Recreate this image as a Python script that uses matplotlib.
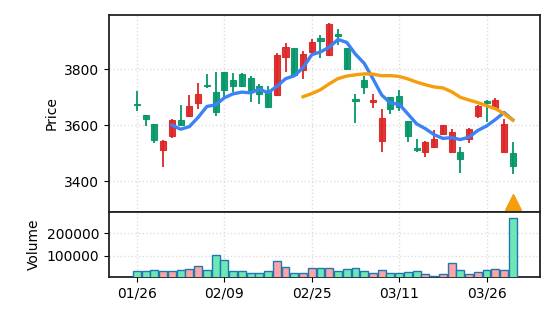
import matplotlib
matplotlib.use("Agg")
import matplotlib.pyplot as plt
from matplotlib.patches import Rectangle
import numpy as np
import pandas as pd

# ---- data ----
opens = [3676, 3637, 3604, 3512, 3561, 3618, 3632, 3681, 3745, 3718,
         3790, 3761, 3784, 3768, 3741, 3720, 3707, 3846, 3875, 3798,
         3862, 3911, 3851, 3925, 3875, 3694, 3763, 3683, 3545, 3700,
         3705, 3614, 3518, 3505, 3521, 3569, 3504, 3505, 3550, 3634,
         3688, 3661, 3505, 3500]
closes = [3673, 3622, 3546, 3544, 3618, 3600, 3669, 3711, 3739, 3647,
          3726, 3740, 3741, 3727, 3711, 3665, 3851, 3879, 3780, 3854,
          3899, 3900, 3964, 3918, 3802, 3688, 3736, 3689, 3627, 3658,
          3667, 3562, 3512, 3541, 3551, 3600, 3575, 3478, 3586, 3669,
          3680, 3689, 3605, 3453]
highs = [3722, 3638, 3606, 3546, 3622, 3672, 3708, 3751, 3782, 3789,
         3792, 3786, 3786, 3776, 3748, 3739, 3857, 3896, 3876, 3865,
         3908, 3922, 3966, 3946, 3876, 3712, 3776, 3712, 3657, 3701,
         3725, 3615, 3551, 3543, 3583, 3602, 3586, 3522, 3590, 3671,
         3690, 3697, 3621, 3540]
lows = [3652, 3599, 3538, 3452, 3554, 3596, 3630, 3659, 3734, 3634,
        3703, 3720, 3738, 3684, 3675, 3664, 3705, 3791, 3778, 3764,
        3860, 3839, 3849, 3887, 3800, 3609, 3711, 3661, 3506, 3641,
        3652, 3541, 3506, 3488, 3520, 3564, 3503, 3431, 3538, 3627,
        3613, 3660, 3504, 3427]
volumes = [32600, 32600, 37000, 35000, 35000, 37000, 42700, 54600, 37000, 103000,
           81000, 32600, 32600, 23800, 23800, 32600, 76600, 51500, 23800, 23800,
           45800, 45800, 45800, 32600, 41400, 47100, 32600, 23800, 37000, 23800,
           23800, 28200, 32600, 19400, 12000, 19400, 67800, 37000, 19400, 28200,
           37000, 41400, 37000, 266000]
tick_index = [0, 10, 20, 30, 40]
tick_labels = ["01/26", "02/09", "02/25", "03/11", "03/26"]
signal_index = [43]
signal_price = [3324]

UP = "#dc2626"
DOWN = "#059669"
VOL_UP = "#fca5a5"
VOL_DOWN = "#6ee7b7"

n = len(closes)
x = np.arange(n)
ma5 = pd.Series(closes).rolling(5).mean()
ma20 = pd.Series(closes).rolling(20).mean()

fig = plt.figure(figsize=(5.56, 3.22), dpi=100)
gs = fig.add_gridspec(2, 1, height_ratios=[3.03, 1], hspace=0,
                      left=0.196, right=0.971, top=0.953, bottom=0.141)
ax = fig.add_subplot(gs[0])
axv = fig.add_subplot(gs[1], sharex=ax)

for a in (ax, axv):
    a.set_axisbelow(True)
    a.grid(True, color="#dddddd", linestyle=":", linewidth=1.0)
    for s in a.spines.values():
        s.set_linewidth(1.3)
        s.set_color("#222222")

w = 0.7
for i in range(n):
    o, c, h, l = opens[i], closes[i], highs[i], lows[i]
    col = UP if c >= o else DOWN
    ax.plot([x[i], x[i]], [l, h], color=col, linewidth=1.3, zorder=2, solid_capstyle="butt")
    bottom = min(o, c)
    height = max(abs(c - o), 1.5)
    ax.add_patch(Rectangle((x[i] - w / 2, bottom), w, height, facecolor=col,
                           alpha=0.92, edgecolor=col, linewidth=0.8, zorder=3))

ax.plot(x, ma5, color="#3b82f6", linewidth=2.4, zorder=4)
ax.plot(x, ma20, color="#f59e0b", linewidth=2.4, zorder=4)
ax.plot(signal_index, signal_price, marker="^", linestyle="none",
        color="#f59e0b", markersize=12, zorder=5)

ax.set_ylim(3291, 3994)
ax.set_yticks([3400, 3600, 3800])
ax.set_ylabel("Price", fontsize=10)
ax.tick_params(axis="x", which="both", bottom=False, labelbottom=False)
ax.tick_params(axis="y", labelsize=10)

vcols = [VOL_UP if closes[i] >= opens[i] else VOL_DOWN for i in range(n)]
axv.bar(x, volumes, width=0.9, color=vcols, edgecolor="#1f77b4", linewidth=1.0, zorder=3)
axv.set_ylim(9000, 295000)
axv.set_yticks([100000, 200000])
axv.set_yticklabels(["100000", "200000"])
axv.set_ylabel("Volume", fontsize=10)
axv.tick_params(axis="both", labelsize=10)
axv.set_xticks(tick_index)
axv.set_xticklabels(tick_labels)
axv.set_xlim(-3.2, 46.1)

fig.savefig("out.png", dpi=100)
